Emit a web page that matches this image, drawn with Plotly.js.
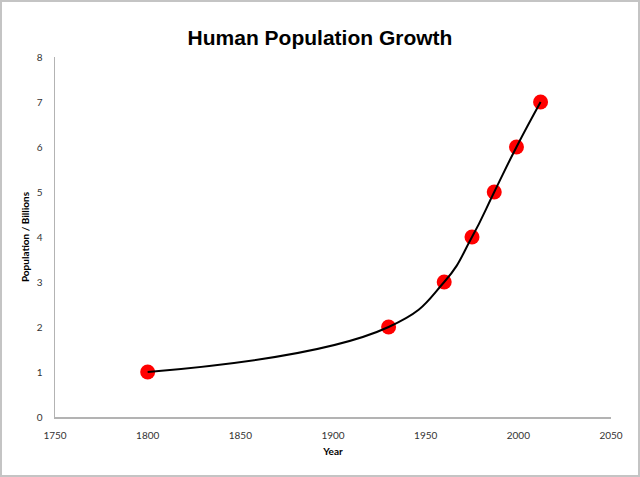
<!DOCTYPE html>
<html>
<head>
<meta charset="utf-8">
<script src="https://cdn.plot.ly/plotly-3.0.1.min.js"></script>
<style>
  body { margin: 0; background: #fff; }
  #myDiv { width: 636px; height: 473px; border: 2px solid #c4c4c4; }
</style>
</head>
<body>
<div id="myDiv"></div>
<script>
// anos e populacao (bilhoes)
var anos = [1800, 1930, 1960, 1975, 1987, 1999, 2012];
var populacao = [1, 2, 3, 4, 5, 6, 7];

var xTicks = [1750, 1800, 1850, 1900, 1950, 2000, 2050];
var yTicks = [0, 1, 2, 3, 4, 5, 6, 7, 8];

var pontos = {
  x: anos,
  y: populacao,
  mode: 'markers',
  type: 'scatter',
  marker: { color: '#ff0000', size: 15, line: { width: 0 } },
  hoverinfo: 'x+y'
};

// linha suavizada por cima dos pontos, como no original
var curva = {
  x: anos,
  y: populacao,
  mode: 'lines',
  type: 'scatter',
  line: { color: '#000000', width: 2, shape: 'spline', smoothing: 1.3 },
  hoverinfo: 'skip'
};

var layout = {
  width: 636,
  height: 473,
  margin: { l: 53, r: 27, t: 55, b: 58 },
  showlegend: false,
  paper_bgcolor: '#ffffff',
  plot_bgcolor: '#ffffff',
  font: { family: 'Lato, "Open Sans", sans-serif', size: 10, color: '#333333' },
  title: {
    text: '<b>Human Population Growth</b>',
    font: { family: '"Liberation Sans", Arial, sans-serif', size: 21, color: '#000000' },
    x: 0.5,
    xref: 'container',
    y: 0.925,
    yref: 'container',
    yanchor: 'middle'
  },
  xaxis: {
    range: [1750, 2050],
    tickvals: xTicks,
    ticktext: xTicks.map(String),
    showgrid: false,
    zeroline: false,
    showline: true,
    linecolor: '#b3b3b3',
    linewidth: 1.5,
    ticks: 'outside',
    ticklen: 8,
    tickcolor: 'rgba(0,0,0,0)',
    title: { text: '<b>Year</b>', font: { size: 10, color: '#000000' }, standoff: 8 }
  },
  yaxis: {
    range: [0, 8],
    tickvals: yTicks,
    ticktext: yTicks.map(String),
    showgrid: false,
    zeroline: false,
    showline: true,
    linecolor: '#b3b3b3',
    linewidth: 1.5,
    ticks: 'outside',
    ticklen: 9,
    tickcolor: 'rgba(0,0,0,0)',
    title: { text: '<b>Population / Billions</b>', font: { size: 10, color: '#000000' }, standoff: 5 }
  }
};

Plotly.newPlot('myDiv', [pontos, curva], layout, { displayModeBar: false, staticPlot: true });
</script>
</body>
</html>
